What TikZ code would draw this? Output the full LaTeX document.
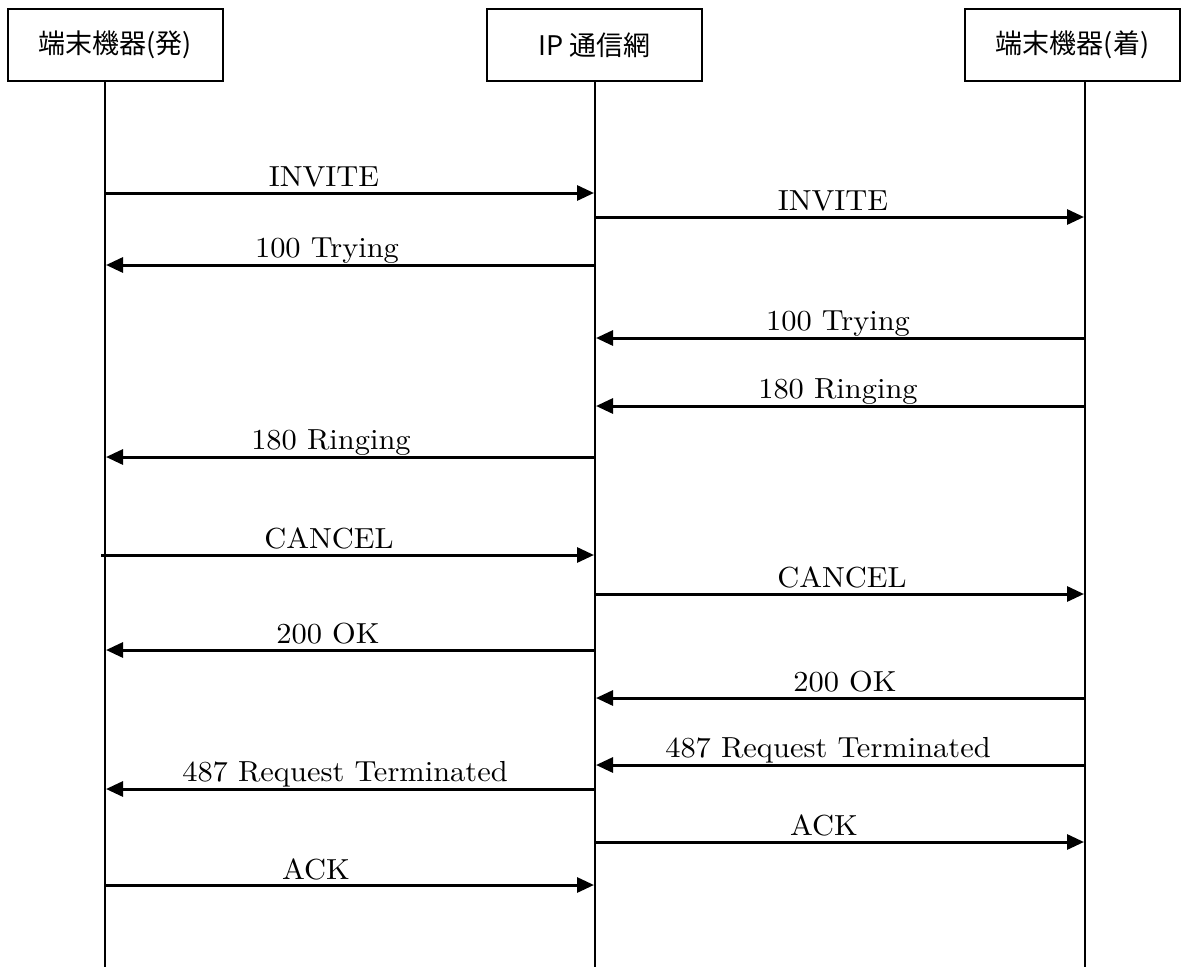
\documentclass[tikz,border=0pt]{standalone}
\usepackage{fontspec}
\newfontfamily\cjk{Noto Sans CJK JP}
\newfontfamily\lbfont{lmroman10-regular.otf}[FakeStretch=1.05]
\usetikzlibrary{arrows.meta}
\begin{document}
\begin{tikzpicture}[x=1pt,y=-1pt,
  actor/.style={draw,line width=1.6pt,minimum width=215pt,minimum height=72pt,inner sep=0pt,font=\cjk\fontsize{27}{30}\selectfont},
  life/.style={line width=1.6pt},
  msg/.style={line width=3pt,-{Triangle[length=17pt,width=15pt]},shorten >=1pt},
  lbl/.style={anchor=base,inner sep=0pt,font=\lbfont\fontsize{29}{34}\selectfont}]
\useasboundingbox (0,0) rectangle (1181,967);
\node[actor] (A) at (115.5,45) {端末機器(発)};
\node[actor] (B) at (594.5,45) {IP 通信網};
\node[actor] (C) at (1072.5,45) {端末機器(着)};
\coordinate (Ab) at (105,967);
\coordinate (Bb) at (595,967);
\coordinate (Cb) at (1085,967);
\draw[life] (A.south -| Ab) -- (Ab);
\draw[life] (B.south -| Bb) -- (Bb);
\draw[life] (C.south -| Cb) -- (Cb);
% message endpoints
\foreach \n/\y in {1/193,2/217,3/265,4/338,5/406,6/457,7/555,8/594,9/650,10/698,11/765,12/789,13/842,14/885}{
  \coordinate (a\n) at (105,\y);
  \coordinate (b\n) at (595,\y);
  \coordinate (c\n) at (1085,\y);
}
\coordinate (a7s) at (101,555);
\draw[msg] (a1) -- (b1);
\node[lbl] (t1) at (324,186) {INVITE};
\draw[msg] (b2) -- (c2);
\node[lbl] (t2) at (833,210) {INVITE};
\draw[msg] (b3) -- (a3);
\node[lbl] (t3) at (327,257) {100 Trying};
\draw[msg] (c4) -- (b4);
\node[lbl] (t4) at (838,330) {100 Trying};
\draw[msg] (c5) -- (b5);
\node[lbl] (t5) at (838,398) {180 Ringing};
\draw[msg] (b6) -- (a6);
\node[lbl] (t6) at (331,449) {180 Ringing};
\draw[msg] (a7s) -- (b7);
\node[lbl] (t7) at (329,548) {CANCEL};
\draw[msg] (b8) -- (c8);
\node[lbl] (t8) at (842,587) {CANCEL};
\draw[msg] (b9) -- (a9);
\node[lbl] (t9) at (328,643) {200 OK};
\draw[msg] (c10) -- (b10);
\node[lbl] (t10) at (845,691) {200 OK};
\draw[msg] (c11) -- (b11);
\node[lbl] (t11) at (828,757) {487 Request Terminated};
\draw[msg] (b12) -- (a12);
\node[lbl] (t12) at (345,781) {487 Request Terminated};
\draw[msg] (b13) -- (c13);
\node[lbl] (t13) at (824,835) {ACK};
\draw[msg] (a14) -- (b14);
\node[lbl] (t14) at (316,879) {ACK};
\end{tikzpicture}
\end{document}
